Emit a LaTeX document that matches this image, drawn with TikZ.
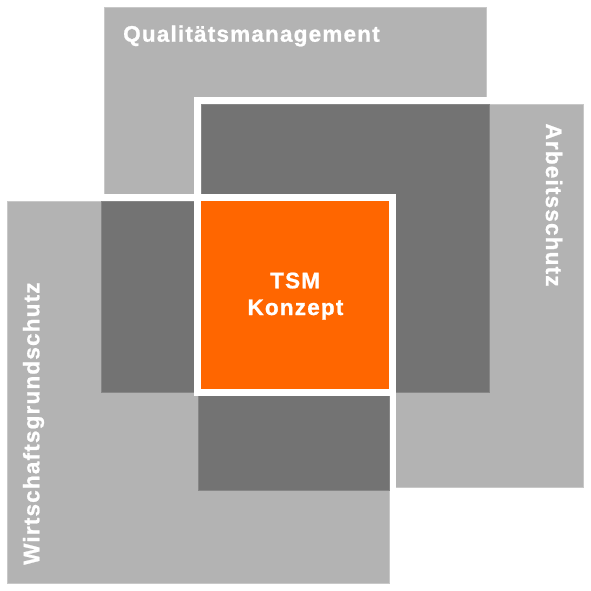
\documentclass[tikz,border=0pt]{standalone}
\usepackage{fontspec}
\setmainfont{Liberation Sans}
\newfontfamily\lblfont[LetterSpace=5.3,FakeBold=1]{Liberation Sans Bold}
\definecolor{lightg}{RGB}{179,179,179}
\definecolor{lightedge}{RGB}{200,200,200}
\definecolor{darkg}{RGB}{115,115,115}
\definecolor{darkedge}{RGB}{135,135,135}
\definecolor{tsmorange}{RGB}{255,102,0}
\tikzset{
  lightsq/.style={fill=lightg, draw=lightedge, line width=0.8pt},
  darksq/.style={fill=darkg, draw=darkedge, line width=0.8pt},
  halo/.style={fill=white},
  coresq/.style={fill=tsmorange},
  lbl/.style={text=white, inner sep=0pt, font=\lblfont\fontsize{22.5}{27}\selectfont},
}
\begin{document}
\begin{tikzpicture}[x=1pt,y=-1pt]
\useasboundingbox (0,0) rectangle (590,591);
% Qualitaetsmanagement square
\path[lightsq] (104,7) rectangle (486,392);
% Arbeitsschutz square with white halo
\path[halo] (194,97) rectangle (590,494);
\path[lightsq] (201,104) rectangle (583,487);
% Wirtschaftsgrundschutz square with white halo
\path[halo] (0,194) rectangle (396,590);
\path[lightsq] (7,201) rectangle (389,583);
% overlaps
\path[darksq] (201,104) rectangle (489,392);
\path[darksq] (101,201) rectangle (389,392);
\path[darksq] (198,201) rectangle (389,490);
% core
\path[halo] (194,194) rectangle (396,396);
\path[coresq] (201,201) rectangle (389,389);
% labels
\node[lbl, anchor=base west] (qm) at (123,41.7) {Qualitätsmanagement};
\node[lbl, anchor=base west, rotate=-90] (as) at (546,123.3) {Arbeitsschutz};
\node[lbl, anchor=base west, rotate=90] (wg) at (39.3,565) {Wirtschaftsgrundschutz};
\node[lbl, anchor=base west] (tsm) at (270,288.3) {TSM};
\node[lbl, anchor=base west] (konz) at (247.3,315) {Konzept};
\end{tikzpicture}
\end{document}
